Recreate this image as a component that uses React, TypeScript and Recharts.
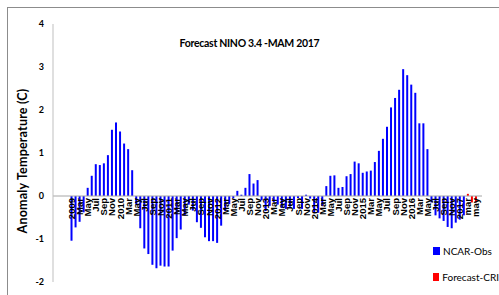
import { Bar, BarChart, Legend, ReferenceLine, XAxis, YAxis } from "recharts";

// monthly Nino 3.4 anomaly, Jan 2009 .. Feb 2017
const obsValues = [
  -1.04, -0.73, -0.6, -0.38, 0.19, 0.47, 0.74, 0.72, 0.76, 0.95, 1.54, 1.71,
  1.5, 1.22, 1.09, 0.6, -0.2, -0.75, -1.22, -1.35, -1.6, -1.68, -1.62, -1.64,
  -1.64, -1.27, -0.98, -0.78, -0.45, -0.2, -0.34, -0.61, -0.74, -0.96, -1.05, -1.05,
  -1.09, -0.69, -0.35, -0.19, -0.05, 0.12, 0.03, 0.19, 0.51, 0.29, 0.37, -0.1,
  -0.35, -0.23, -0.14, -0.2, -0.28, -0.3, -0.25, -0.3, -0.05, -0.3, 0.03, -0.06,
  -0.39, -0.39, -0.23, 0.23, 0.47, 0.48, 0.19, 0.21, 0.46, 0.51, 0.8, 0.76,
  0.54, 0.57, 0.59, 0.79, 1.05, 1.33, 1.61, 2.06, 2.28, 2.47, 2.95, 2.81,
  2.59, 2.4, 1.69, 1.69, 1.09, -0.15, -0.45, -0.52, -0.58, -0.72, -0.75, -0.62,
  -0.55, -0.45,
];
const forecastValues = [0.05, -0.15, -0.15];

const firstYear = 2009;
const monthAbbr = ["Jan", "Feb", "Mar", "Apr", "May", "Jun", "Jul", "Aug", "Sep", "Oct", "Nov", "Dec"];
const forecastMonths = ["mar", "apr", "may"];
const yTicks = [-2, -1, 0, 1, 2, 3, 4];

const data = [
  ...obsValues.map((v, i) => ({
    month: i % 12 === 0 ? String(firstYear + Math.floor(i / 12)) : monthAbbr[i % 12],
    obs: v,
  })),
  ...forecastValues.map((v, i) => ({ month: forecastMonths[i], fcst: v })),
];

const W = 499;
const H = 295;
const TOP = 24;
const BOTTOM = 12;
const X_H = 1;
const ZERO_Y = TOP + ((4 - 0) / 6) * (H - TOP - BOTTOM - X_H);

function MonthTick({ x, payload }: any) {
  return (
    <text
      transform={`translate(${x + 3.5},${ZERO_Y + 2}) rotate(-90)`}
      textAnchor="end"
      fontSize={9.5}
      fontWeight="bold"
      fontFamily="Liberation Sans, Arial, sans-serif"
      fill="#000"
    >
      {payload.value}
    </text>
  );
}

function YLabel({ viewBox }: any) {
  const cy = viewBox.y + viewBox.height / 2 + 8;
  return (
    <text
      transform={`translate(27,${cy}) rotate(-90)`}
      textAnchor="middle"
      fontSize={12.5}
      fontWeight="bold"
      letterSpacing={0.2}
      fontFamily="Lato, sans-serif"
      fill="#000"
    >
      Anomaly Temperature (C)
    </text>
  );
}

function LegendBox() {
  const rows = [
    { name: "NCAR-Obs", color: "#0000ff" },
    { name: "Forecast-CRI", color: "#ff0000" },
  ];
  return (
    <div style={{ fontFamily: "Lato, sans-serif", fontSize: 10, color: "#000", whiteSpace: "nowrap" }}>
      {rows.map((r) => (
        <div key={r.name} style={{ display: "flex", alignItems: "center", height: 13, marginBottom: 13 }}>
          <span style={{ width: 5, height: 6, background: r.color, border: "1px solid " + r.color, marginRight: 3 }} />
          {r.name}
        </div>
      ))}
    </div>
  );
}

export default function App() {
  return (
    <div style={{ position: "absolute", left: 0, top: 0, width: W, height: H, background: "#fff" }}>
      <div
        style={{
          position: "absolute",
          left: 7,
          top: 7,
          width: W - 7,
          height: H - 7,
          borderTop: "1px solid #8c8c8c",
          borderLeft: "1px solid #8c8c8c",
        }}
      />
      <div
        style={{
          position: "absolute",
          left: 0,
          width: W,
          top: 37,
          textAlign: "center",
          fontFamily: "Lato, sans-serif",
          fontWeight: "bold",
          fontSize: 10.5,
          letterSpacing: -0.3,
        }}
      >
        Forecast NINO 3.4 -MAM 2017
      </div>
      <BarChart
        width={W}
        height={H}
        data={data}
        margin={{ top: TOP, right: 17, bottom: BOTTOM, left: 0 }}
        barCategoryGap="25%"
      >
        <XAxis
          dataKey="month"
          height={X_H}
          interval={1}
          axisLine={false}
          tickLine={false}
          padding={{ left: 16.5, right: 4 }}
          tick={(p: any) => <MonthTick {...p} />}
        />
        <YAxis
          width={53}
          domain={[-2, 4]}
          ticks={yTicks}
          interval={0}
          axisLine={{ stroke: "#bfbfbf" }}
          tickLine={false}
          tickSize={0}
          tickMargin={9}
          tick={{ fontSize: 9, fontWeight: "bold", fill: "#000", fontFamily: "Lato, sans-serif" }}
          label={(p: any) => <YLabel {...p} />}
        />
        <ReferenceLine y={0} stroke="#a6a6a6" />
        <Bar dataKey="obs" stackId="a" fill="#0000ff" isAnimationActive={false} />
        <Bar dataKey="fcst" stackId="a" fill="#ff0000" isAnimationActive={false} />
        <Legend
          layout="vertical"
          align="center"
          verticalAlign="middle"
          wrapperStyle={{ left: 433, top: 244, width: 66 }}
          content={() => <LegendBox />}
        />
      </BarChart>
    </div>
  );
}
